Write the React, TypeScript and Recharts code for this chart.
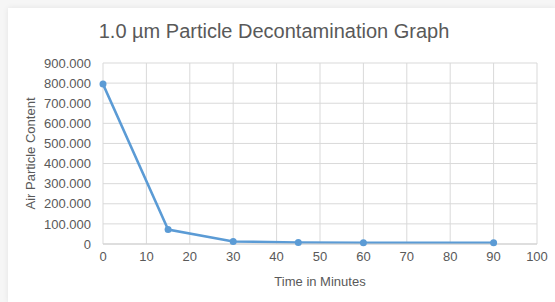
import React from 'react';
import { LineChart, Line, XAxis, YAxis, CartesianGrid } from 'recharts';

const minutes = [0, 15, 30, 45, 60, 90];
const particles = [795000, 72000, 12000, 8000, 6000, 6000];
const xTicks = [0, 10, 20, 30, 40, 50, 60, 70, 80, 90, 100];
const yTicks = [0, 100000, 200000, 300000, 400000, 500000, 600000, 700000, 800000, 900000];

const data = minutes.map((m, i) => ({ minute: m, content: particles[i] }));

const fmt = (v: number) =>
  v === 0 ? '0' : `${Math.floor(v / 1000)}.${String(v % 1000).padStart(3, '0')}`;

const FONT = '"Liberation Sans", Arial, Helvetica, sans-serif';
const TEXT = '#595959';

export default function App() {
  return (
    <div style={{ position: 'fixed', inset: 0, background: '#f6f6f6' }}>
      <div
        style={{
          position: 'absolute',
          left: 8,
          top: 8,
          width: 547,
          height: 294,
          background: '#fff',
          boxShadow: '0 0 6px rgba(0,0,0,0.08)',
          fontFamily: FONT,
        }}
      >
        <div
          style={{
            position: 'absolute',
            left: 0,
            top: 12,
            width: 532,
            textAlign: 'center',
            fontSize: 20,
            color: TEXT,
          }}
        >
          1.0 µm Particle Decontamination Graph
        </div>
        <LineChart width={547} height={294} data={data} margin={{ top: 55, right: 18, left: 0, bottom: 14 }}>
          <CartesianGrid stroke="#d9d9d9" strokeWidth={1} />
          <XAxis
            type="number"
            dataKey="minute"
            domain={[0, 100]}
            ticks={xTicks}
            interval={0}
            height={44}
            tick={{ fontSize: 13, fill: TEXT, fontFamily: FONT }}
            tickLine={false}
            axisLine={{ stroke: '#d0d0d0' }}
            label={{ value: 'Time in Minutes', position: 'insideBottom', offset: 2, fontSize: 13, fill: TEXT, fontFamily: FONT }}
          />
          <YAxis
            type="number"
            domain={[0, 900000]}
            ticks={yTicks}
            interval={0}
            width={95}
            tickFormatter={fmt}
            tick={{ fontSize: 13, fill: TEXT, fontFamily: FONT }}
            tickLine={false}
            axisLine={false}
            tickMargin={6}
            label={{ value: 'Air Particle Content', angle: -90, position: 'insideLeft', offset: 22, style: { textAnchor: 'middle' }, fontSize: 13, fill: TEXT, fontFamily: FONT }}
          />
          <Line
            type="linear"
            dataKey="content"
            stroke="#5b9bd5"
            strokeWidth={2.5}
            dot={{ r: 3.5, fill: '#5b9bd5', stroke: 'none' }}
            isAnimationActive={false}
          />
        </LineChart>
      </div>
    </div>
  );
}
